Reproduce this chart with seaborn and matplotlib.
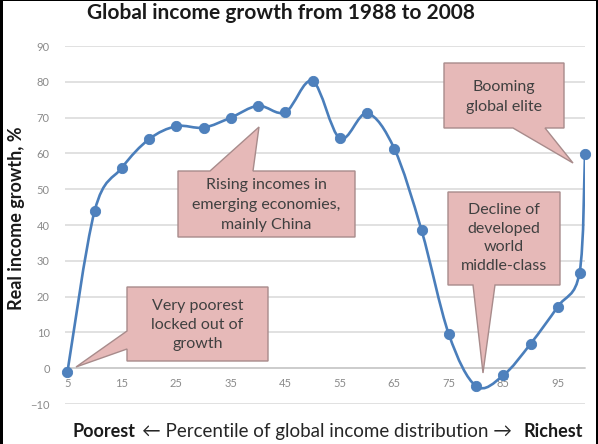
import numpy as np
import pandas as pd
import matplotlib
matplotlib.use("Agg")
import matplotlib.pyplot as plt
import seaborn as sns
from matplotlib.path import Path
from matplotlib.patches import PathPatch, Polygon, Rectangle

# ---- data ----
percentile = [5, 10, 15, 20, 25, 30, 35, 40, 45, 50, 55, 60, 65, 70, 75, 80, 85, 90, 95, 99, 100]
growth = [-1, 44, 56, 64, 67.6, 67.2, 70, 73.3, 71.5, 80.2, 64.2, 71.2, 61.3, 38.5, 9.5, -5, -2, 6.8, 17.2, 26.7, 59.8]
xtick_vals = [5, 15, 25, 35, 45, 55, 65, 75, 85, 95]
ytick_vals = [-10, 0, 10, 20, 30, 40, 50, 60, 70, 80, 90]

title = "Global income growth from 1988 to 2008"
ylabel = "Real income growth, %"
callout_texts = [
    "Very poorest\nlocked out of\ngrowth",
    "Rising incomes in\nemerging economies,\nmainly China",
    "Booming\nglobal elite",
    "Decline of\ndeveloped\nworld\nmiddle-class",
]

df = pd.DataFrame({"percentile": percentile, "growth": growth})

sns.set_style("white")
plt.rcParams["font.family"] = ["Lato", "DejaVu Sans"]

W, H = 598, 444
fig = plt.figure(figsize=(W / 100, H / 100), dpi=100)
fig.patch.set_facecolor("white")

def fx(x):
    return x / W

def fy(y):
    return 1 - y / H

ax = fig.add_axes([fx(65), fy(404), fx(585) - fx(65), fy(46) - fy(404)])
ax.set_xlim(4.55, 100.0)
ax.set_ylim(-10, 90)

# gridlines
ax.set_yticks(ytick_vals)
ax.yaxis.grid(True, color="#d9d9d9", linewidth=1.1)
ax.xaxis.grid(False)
ax.set_axisbelow(True)
for s in ["top", "right", "left"]:
    ax.spines[s].set_visible(False)
ax.spines["bottom"].set_position(("data", 0))
ax.spines["bottom"].set_color("#c8c8c8")
ax.spines["bottom"].set_linewidth(1.1)
ax.set_xticks(xtick_vals)
ax.set_xticklabels([str(v) for v in xtick_vals])
ax.tick_params(axis="x", direction="inout", length=4, width=0.8, color="#c8c8c8",
               labelsize=8, labelcolor="#8a8a8a", pad=5)
ax.tick_params(axis="y", length=0, labelsize=8, labelcolor="#8a8a8a", pad=11)

# smooth line (Catmull-Rom style Bezier through data points)
xs = np.array(df["percentile"], dtype=float)
ys = np.array(df["growth"], dtype=float)
P = np.column_stack([xs, ys])
n = len(P)
verts = [tuple(P[0])]
codes = [Path.MOVETO]
for i in range(n - 1):
    p0 = P[i - 1] if i > 0 else P[i]
    p1 = P[i]
    p2 = P[i + 1]
    p3 = P[i + 2] if i + 2 < n else P[i + 1]
    c1 = p1 + (p2 - p0) / 6.0
    c2 = p2 - (p3 - p1) / 6.0
    verts += [tuple(c1), tuple(c2), tuple(p2)]
    codes += [Path.CURVE4] * 3
ax.add_patch(PathPatch(Path(verts, codes), facecolor="none", edgecolor="#4a7ebb",
                       linewidth=1.9, zorder=3, capstyle="round", joinstyle="round"))

sns.scatterplot(data=df, x="percentile", y="growth", ax=ax, s=55, color="#4f81bd",
                edgecolor="#4a7ebb", linewidth=0.6, zorder=4, clip_on=False, legend=False)
ax.set_xlabel("")
ax.set_ylabel("")

# ---- callouts (pixel layout coordinates) ----
def callout(box, side, base, tip, text, text_y=None, ls=1.45):
    x0, y0, x1, y1 = box
    a, b = base
    pts = [(x0, y0)]
    if side == "top":
        pts += [(a, y0), tip, (b, y0)]
    pts += [(x1, y0), (x1, y1)]
    if side == "bottom":
        pts += [(b, y1), tip, (a, y1)]
    pts += [(x0, y1)]
    if side == "left":
        pts += [(x0, b), tip, (x0, a)]
    poly = Polygon([(fx(px), fy(py)) for px, py in pts], closed=True,
                   transform=fig.transFigure, facecolor="#e6b9b8",
                   edgecolor="#a88b8b", linewidth=1.0, zorder=10)
    fig.patches.append(poly)
    ty = (y0 + y1) / 2 if text_y is None else text_y
    fig.text(fx((x0 + x1) / 2), fy(ty), text, ha="center", va="center",
             fontsize=11.5, color="#404040", linespacing=ls, zorder=11)

callout((127, 287, 268, 361), "left", (331, 349), (76, 367), callout_texts[0], 325, 1.42)
callout((178, 171, 355, 237), "top", (210, 253), (259, 127), callout_texts[1], 205, 1.55)
callout((444, 63, 564, 128), "bottom", (513, 545), (573, 163), callout_texts[2], 97, 1.5)
callout((448, 192, 560, 285), "bottom", (473, 495), (483, 373), callout_texts[3], 238, 1.45)

# ---- titles and axis labels ----
fig.text(fx(281), fy(13), title, ha="center", va="center", fontsize=15,
         fontweight="bold", color="#1a1a1a")
fig.text(fx(17), fy(218), ylabel, ha="center", va="center", rotation=90,
         fontsize=13, fontweight="bold", color="#1a1a1a")
fig.text(fx(72), fy(431), "Poorest", ha="left", va="center", fontsize=13,
         fontweight="bold", color="#1a1a1a")
fig.text(fx(583), fy(431), "Richest", ha="right", va="center", fontsize=13,
         fontweight="bold", color="#1a1a1a")
fig.text(fx(327), fy(431), "\u2190 Percentile of global income distribution \u2192",
         ha="center", va="center", fontsize=13.5, color="#262626")

# frame
fig.patches.append(Rectangle((0, 0), fx(2.5), 1, transform=fig.transFigure,
                             facecolor="black", edgecolor="none", zorder=20))
fig.patches.append(Rectangle((fx(596), 0), fx(2), 1, transform=fig.transFigure,
                             facecolor="black", edgecolor="none", zorder=20))
fig.patches.append(Rectangle((0, fy(1)), 1, fy(0) - fy(1), transform=fig.transFigure,
                             facecolor="black", edgecolor="none", zorder=20))

fig.savefig("out.png", dpi=100)
